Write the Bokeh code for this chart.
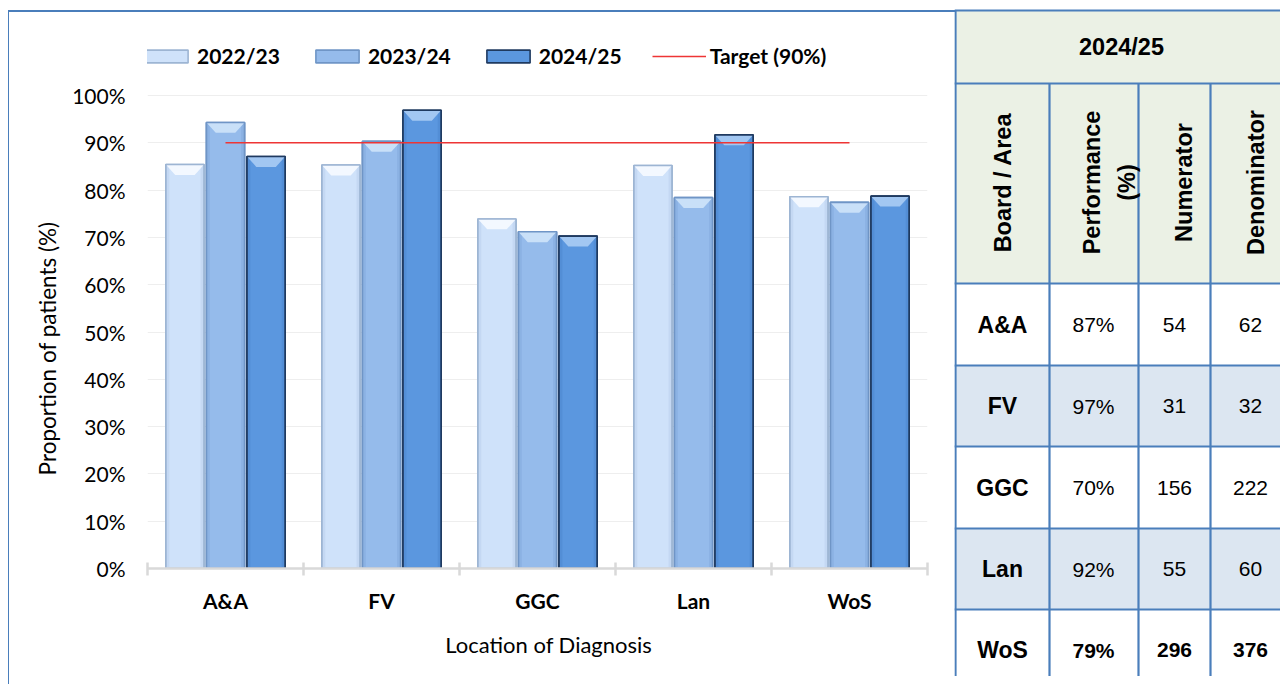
import numpy as np
from bokeh.plotting import figure
from bokeh.models import Range1d, FixedTicker, Legend, LegendItem, ColumnDataSource, Title
from bokeh.embed import file_html
from bokeh.resources import INLINE
from bokeh.core.properties import value

# ---------------- data ----------------
categories = ["A&A", "FV", "GGC", "Lan", "WoS"]
series_names = ["2022/23", "2023/24", "2024/25"]
perf_2022_23 = [85.4, 85.3, 73.9, 85.2, 78.6]
perf_2023_24 = [94.3, 90.3, 71.2, 78.4, 77.4]
numerator_2024_25 = [54, 31, 156, 55, 296]
denominator_2024_25 = [62, 32, 222, 60, 376]
perf_2024_25 = [100.0 * n / d for n, d in zip(numerator_2024_25, denominator_2024_25)]
target_pct = 90
target_label = "Target (90%)"
y_ticks = [0, 10, 20, 30, 40, 50, 60, 70, 80, 90, 100]
x_title = "Location of Diagnosis"
y_title = "Proportion of patients (%)"
table_title = "2024/25"
table_headers = ["Board / Area", "Performance\n(%)", "Numerator", "Denominator"]

# ---------------- styles ----------------
FONT = "Lato"
TFONT = "Liberation Sans"
BLUE_LINE = "#4A7EBB"
fills = ["#CFE2FA", "#95BBEB", "#5B97DF"]
edges = ["#9DB5D3", "#6F95C6", "#1F3A60"]
bevels = ["#F4F9FF", "#CBE1F9", "#A6C9F2"]
sides = ["#BCD2EE", "#86ACDD", "#4F89D0"]
offsets = [-0.26, 0.0, 0.26]
bar_w = 0.245
BEV_H = 2.2      # bevel height (in % units)
BEV_IN = 0.06    # bevel inset (in category units)
SIDE_W = 0.022   # side shading width

# ---------------- chart ----------------
CW, CH = 946, 668
x_pos = np.arange(len(categories)) + 0.5
y_top = 100 * 538 / 473.0
p = figure(width=CW, height=CH, x_range=Range1d(0, len(categories)),
           y_range=Range1d(0, y_top), output_backend="svg", toolbar_location=None,
           min_border_left=139, min_border_right=27, min_border_top=22,
           min_border_bottom=108)
p.outline_line_color = None

series_vals = [perf_2022_23, perf_2023_24, perf_2024_25]
bar_renderers = []
for vals, off, fc, lc, bc, sc in zip(series_vals, offsets, fills, edges, bevels, sides):
    vals = np.array(vals)
    xc = x_pos + off
    src = ColumnDataSource(dict(x=xc, top=vals))
    r = p.vbar(x="x", top="top", bottom=0, width=bar_w, source=src,
               fill_color=fc, line_color=lc, line_width=1.6)
    p.quad(left=xc - bar_w / 2, right=xc - bar_w / 2 + SIDE_W, top=vals, bottom=0,
           fill_color=sc, line_color=None, fill_alpha=0.6)
    p.quad(left=xc + bar_w / 2 - SIDE_W, right=xc + bar_w / 2, top=vals, bottom=0,
           fill_color=sc, line_color=None, fill_alpha=0.6)
    xs = [[x - bar_w / 2, x + bar_w / 2, x + bar_w / 2 - BEV_IN, x - bar_w / 2 + BEV_IN]
          for x in xc]
    ys = [[v, v, v - BEV_H, v - BEV_H] for v in vals]
    p.patches(xs=xs, ys=ys, fill_color=bc, line_color=None, fill_alpha=0.95)
    p.vbar(x="x", top="top", bottom=0, width=bar_w, source=src,
           fill_color=None, line_color=lc, line_width=1.6)
    bar_renderers.append(r)

tline = p.line(x=[x_pos[0], x_pos[-1]], y=[target_pct, target_pct],
               line_color="#EE3535", line_width=1.6)

# axes
p.yaxis.ticker = FixedTicker(ticks=y_ticks)
p.yaxis.major_label_overrides = {t: f"{t}%" for t in y_ticks}
p.yaxis.axis_line_color = None
p.yaxis.major_tick_line_color = None
p.yaxis.minor_tick_line_color = None
p.yaxis.major_tick_out = 0
p.yaxis.major_tick_in = 0
p.yaxis.major_label_standoff = 22
p.yaxis.major_label_text_font = FONT
p.yaxis.major_label_text_font_size = "21px"
p.yaxis.major_label_text_color = "#000000"

p.xaxis.ticker = FixedTicker(ticks=list(x_pos), minor_ticks=list(range(len(categories) + 1)))
p.xaxis.major_label_overrides = {float(x): c for x, c in zip(x_pos, categories)}
p.xaxis.axis_line_color = "#D9D9D9"
p.xaxis.axis_line_width = 2.5
p.xaxis.major_tick_line_color = None
p.xaxis.major_tick_out = 0
p.xaxis.major_tick_in = 0
p.xaxis.minor_tick_line_color = "#D9D9D9"
p.xaxis.minor_tick_line_width = 2.5
p.xaxis.minor_tick_in = 6
p.xaxis.minor_tick_out = 7
p.xaxis.major_label_standoff = 12
p.xaxis.major_label_text_font = FONT
p.xaxis.major_label_text_font_style = "bold"
p.xaxis.major_label_text_font_size = "21px"
p.xaxis.major_label_text_color = "#000000"

# axis titles; no-break spaces nudge them to the reference positions
ytitle = Title(text=y_title + "\u00a0" * 17, align="center", standoff=18,
               text_font=FONT, text_font_style="normal", text_font_size="22.5px",
               text_color="#000000")
p.add_layout(ytitle, "left")
xtitle = Title(text="\u00a0" * 4 + x_title, align="center", standoff=26,
               text_font=FONT, text_font_style="normal", text_font_size="22px",
               text_color="#000000")
p.add_layout(xtitle, "below")

p.xgrid.grid_line_color = None
p.ygrid.grid_line_color = "#EEEEEE"
p.ygrid.grid_line_width = 1

items = [LegendItem(label=n, renderers=[r]) for n, r in zip(series_names, bar_renderers)]
items.append(LegendItem(label=target_label, renderers=[tline]))
legend = Legend(items=items, orientation="horizontal", location=(-8, 500),
                glyph_width=54, glyph_height=16, label_standoff=4, spacing=30,
                padding=0, margin=0, border_line_color=None,
                background_fill_alpha=0, label_text_font=FONT,
                label_text_font_style="bold", label_text_font_size="21px",
                label_text_color="#000000")
p.add_layout(legend, "center")

# ---------------- table ----------------
TW, TH = 326, 668
t = figure(width=TW, height=TH, x_range=Range1d(0, TW), y_range=Range1d(0, TH),
           output_backend="svg", toolbar_location=None, min_border=0,
           x_axis_location=None, y_axis_location=None)
t.outline_line_color = None
t.grid.visible = False

def yy(v):
    return TH - v

col_edges = [1, 95, 184, 256, 340]
row_edges = [2, 75, 275, 357, 438, 520, 601, 682]
header_fill = "#EBF1E5"
band_fill = "#DCE6F1"

t.quad(left=[0], right=[TW + 20], top=[yy(row_edges[0])], bottom=[yy(row_edges[2])],
       fill_color=header_fill, line_color=None)
body_tops = row_edges[2:-1]
body_bots = row_edges[3:]
row_fill = [band_fill if i % 2 == 1 else "#FFFFFF" for i in range(len(categories))]
t.quad(left=[0] * len(categories), right=[TW + 20] * len(categories),
       top=[yy(v) for v in body_tops], bottom=[yy(v) for v in body_bots],
       fill_color=row_fill, line_color=None)

t.segment(x0=[0] * len(row_edges), x1=[TW + 20] * len(row_edges),
          y0=[yy(v) for v in row_edges], y1=[yy(v) for v in row_edges],
          line_color=BLUE_LINE, line_width=2.2)
t.segment(x0=[col_edges[0]], x1=[col_edges[0]], y0=[yy(row_edges[0])], y1=[yy(TH + 20)],
          line_color=BLUE_LINE, line_width=2.2)
t.segment(x0=col_edges[1:4], x1=col_edges[1:4], y0=[yy(row_edges[1])] * 3,
          y1=[yy(TH + 20)] * 3, line_color=BLUE_LINE, line_width=2.2)

t.text(x=[167], y=[yy(38)], text=[table_title], text_align="center",
       text_baseline="middle", text_font=value(TFONT), text_font_style="bold",
       text_font_size="23.5px", text_color="#000000")
hdr_x = [48, 155, 229, 301]
t.text(x=hdr_x, y=[yy(174)] * 4, text=table_headers, angle=np.pi / 2,
       text_align="center", text_baseline="middle", text_font=value(TFONT),
       text_font_style="bold", text_font_size="23.5px", text_color="#000000",
       text_line_height=1.35)

row_mid = [(a + b) / 2 for a, b in zip(body_tops, body_bots)]
perf_txt = [f"{round(100 * n / d)}%" for n, d in zip(numerator_2024_25, denominator_2024_25)]
t.text(x=[48] * len(categories), y=[yy(v) for v in row_mid], text=categories,
       text_align="center", text_baseline="middle", text_font=value(TFONT),
       text_font_style="bold", text_font_size="23px", text_color="#000000")
col_x = [139, 220, 296]
body_cols = [perf_txt, [str(n) for n in numerator_2024_25], [str(d) for d in denominator_2024_25]]
n_reg = len(categories) - 1
for cx, vals in zip(col_x, body_cols):
    t.text(x=[cx] * n_reg, y=[yy(v) for v in row_mid[:n_reg]], text=vals[:n_reg],
           text_align="center", text_baseline="middle", text_font=value(TFONT),
           text_font_size="21px", text_color="#000000")
    t.text(x=[cx], y=[yy(row_mid[-1])], text=vals[-1:],
           text_align="center", text_baseline="middle", text_font=value(TFONT),
           text_font_style="bold", text_font_size="21px", text_color="#000000")

html = file_html([p, t], INLINE)
css = ("<style>body{margin:8px;display:flex;flex-direction:row;"
       "align-items:flex-start;position:relative;}"
       "body::before{content:'';position:absolute;left:-1px;top:2px;width:947px;"
       "height:720px;border-left:2px solid #4A7EBB;border-top:2px solid #4A7EBB;"
       "pointer-events:none;z-index:10;}</style>")
html = html.replace("</head>", css + "</head>", 1)
open("out.html", "w").write(html)
